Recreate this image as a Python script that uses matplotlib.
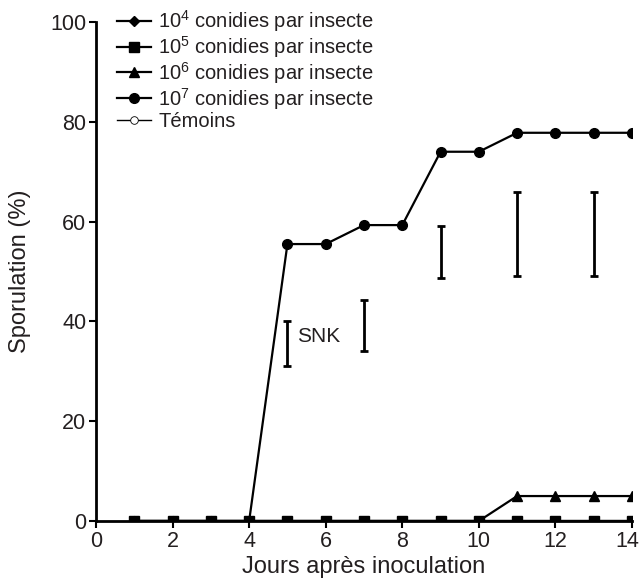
import matplotlib
matplotlib.use("Agg")
import matplotlib.pyplot as plt
import matplotlib.transforms as mtransforms

plt.rcParams['font.family'] = ['Liberation Sans', 'DejaVu Sans']
plt.rcParams['mathtext.fontset'] = 'custom'
plt.rcParams['mathtext.rm'] = 'Liberation Sans'
plt.rcParams['mathtext.it'] = 'Liberation Sans'

# données
jours = [1, 2, 3, 4, 5, 6, 7, 8, 9, 10, 11, 12, 13, 14]
dose4 = [0] * 14
dose5 = [0] * 14
dose6 = [0, 0, 0, 0, 0, 0, 0, 0, 0, 0, 5, 5, 5, 5]
dose7 = [0, 0, 0, 0, 55.5, 55.5, 59.3, 59.3, 74, 74, 77.8, 77.8, 77.8, 77.8]
temoins = [0] * 14

# barres SNK (jour, bas, haut)
snk_jours = [5, 7, 9, 11, 13]
snk_bas = [31, 34, 48.7, 49, 49]
snk_haut = [40, 44.3, 59.1, 66, 66]

txt = '#231f20'

fig = plt.figure(figsize=(6.43, 5.86), dpi=100)
ax = fig.add_axes([96/643, 1 - 521/586, 536/643, 499/586])

ax.plot(jours, dose4, color='black', lw=1.6, marker='D', ms=5.5, label=r'10$^{4}$ conidies par insecte')
ax.plot(jours, dose5, color='black', lw=1.6, marker='s', ms=6.5, label=r'10$^{5}$ conidies par insecte')
ax.plot(jours, dose6, color='black', lw=1.6, marker='^', ms=7, label=r'10$^{6}$ conidies par insecte')
ax.plot(jours, dose7, color='black', lw=1.6, marker='o', ms=7, label=r'10$^{7}$ conidies par insecte')
ax.plot(jours, temoins, color='black', lw=1.0, marker='o', ms=5.5, mfc='white', mew=0.6,
        label='Témoins', zorder=1)

for j, b, h in zip(snk_jours, snk_bas, snk_haut):
    ax.vlines(j, b, h, color='black', lw=2)
    ax.hlines([b, h], j - 0.105, j + 0.105, color='black', lw=2)
ax.text(5.24, 37, 'SNK', fontsize=15, va='center', ha='left', color=txt)

ax.set_xlim(0, 14)
ax.set_ylim(0, 100)
ax.set_xticks(range(0, 15, 2))
ax.set_yticks(range(0, 101, 20))
ax.spines['top'].set_visible(False)
ax.spines['right'].set_visible(False)
ax.spines['left'].set_linewidth(2)
ax.spines['bottom'].set_linewidth(2)
ax.tick_params(width=1.5, length=5, labelsize=15.5, direction='out', pad=2, labelcolor=txt)
ax.set_xlabel('Jours après inoculation', fontsize=17, labelpad=3, color=txt)
ax.set_ylabel('Sporulation (%)', fontsize=17, labelpad=14, color=txt)

# le dernier label (14) un peu vers la gauche pour rester dans l'image
dernier = ax.get_xticklabels()[-1]
dernier.set_transform(dernier.get_transform() +
                      mtransforms.ScaledTranslation(-5/100, 0, fig.dpi_scale_trans))

ax.legend(loc='upper left', bbox_to_anchor=(117/643, 1 - 8/586),
          bbox_transform=fig.transFigure, frameon=False, fontsize=14.5,
          handlelength=1.7, handletextpad=0.35, labelspacing=0.0,
          borderaxespad=0, borderpad=0, labelcolor=txt)

fig.savefig('out.png', dpi=100)
